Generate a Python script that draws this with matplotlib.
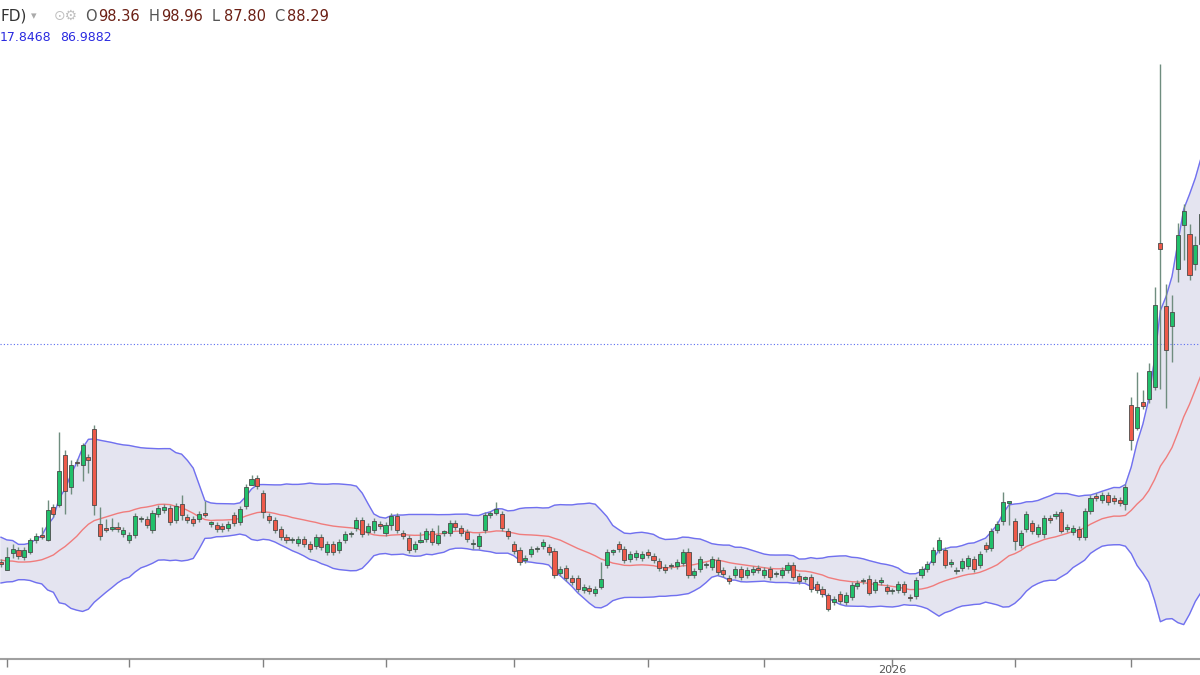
import numpy as np
import matplotlib.pyplot as plt
from matplotlib.patches import Rectangle

# closes before the first visible candle, only used to seed the bands
pre_close = [28, 27, 26, 27.5, 25, 26, 24.5, 23, 24, 22, 23, 21, 22, 21.5, 20, 21, 19.5, 20.5, 21.5, 22.3]

opens = [
    22.7, 21.1, 24.5, 25.1, 23.7, 24.7, 27.1, 28.1, 27.1, 33.7, 34.1, 44.1, 37.7, 42.6, 42.0, 43.7, 49.3, 30.3, 29.5, 29.3,
    29.7, 28.3, 27.1, 28.0, 31.2, 31.2, 29.0, 32.3, 33.1, 33.5, 31.0, 34.2, 31.7, 31.3, 31.2, 32.5, 30.3, 30.1, 29.8, 29.5,
    32.0, 30.7, 33.9, 38.0, 39.5, 36.5, 31.8, 31.0, 29.2, 27.7, 27.0, 26.5, 27.3, 26.3, 25.8, 27.7, 24.7, 26.2, 25.1, 27.1,
    28.2, 29.5, 31.0, 28.7, 29.1, 30.2, 28.5, 30.0, 31.8, 28.5, 27.5, 25.3, 26.7, 27.3, 28.9, 26.5, 28.5, 28.5, 30.5, 29.5,
    28.7, 26.2, 25.8, 29.1, 32.1, 32.5, 32.3, 28.8, 26.3, 25.1, 23.1, 24.2, 25.2, 25.8, 25.7, 24.9, 20.5, 21.5, 19.5, 19.5,
    17.0, 17.5, 16.5, 17.7, 22.0, 24.7, 26.3, 25.3, 23.3, 23.7, 23.5, 24.7, 23.8, 22.9, 21.7, 21.8, 21.8, 22.5, 24.7, 20.0,
    21.3, 22.0, 21.7, 23.1, 21.1, 19.5, 20.0, 21.3, 20.0, 20.7, 21.5, 20.0, 21.3, 20.2, 20.0, 21.1, 22.1, 19.9, 19.3, 19.7,
    18.2, 17.2, 16.0, 14.7, 16.3, 14.7, 15.7, 17.8, 18.8, 19.3, 17.1, 18.7, 17.7, 16.8, 17.1, 18.3, 15.7, 15.8, 20.0, 21.3,
    22.7, 25.1, 25.0, 22.2, 20.8, 21.5, 21.8, 23.3, 22.0, 26.1, 25.5, 29.0, 30.9, 34.5, 30.9, 26.1, 29.3, 30.5, 28.3, 28.2,
    31.5, 31.8, 32.7, 29.2, 28.7, 29.3, 27.7, 32.9, 35.8, 35.1, 36.0, 35.5, 35.1, 34.2, 54.0, 49.5, 54.7, 55.3, 57.7, 86.5,
    73.7, 69.8, 81.3, 90.1, 88.3, 82.3, 86.2, 96.5,
]
closes = [
    22.3, 23.7, 25.3, 23.8, 25.0, 27.0, 27.9, 27.7, 33.0, 32.2, 40.9, 36.8, 42.0, 42.4, 46.1, 43.1, 34.1, 27.8, 29.1, 29.3,
    29.2, 29.1, 28.1, 31.8, 31.2, 30.1, 32.5, 33.5, 33.7, 30.7, 33.9, 32.0, 31.0, 30.5, 32.2, 32.0, 30.3, 29.2, 29.3, 30.3,
    30.5, 33.3, 37.7, 39.2, 37.8, 32.7, 31.0, 29.0, 27.7, 27.0, 27.0, 27.3, 26.3, 25.3, 27.7, 25.7, 26.2, 24.7, 26.7, 28.2,
    28.2, 31.1, 28.3, 29.8, 30.8, 29.8, 30.0, 31.8, 29.0, 27.9, 25.0, 26.2, 26.7, 28.8, 26.7, 28.0, 28.5, 30.5, 29.7, 28.5,
    27.2, 26.2, 27.9, 32.1, 32.3, 33.3, 29.5, 27.9, 24.9, 22.7, 23.5, 25.3, 25.2, 26.7, 24.7, 20.0, 21.3, 19.5, 18.7, 17.2,
    17.7, 16.9, 17.3, 19.3, 24.7, 24.7, 25.3, 23.1, 24.2, 24.5, 24.3, 24.0, 23.1, 21.5, 21.1, 21.8, 22.7, 24.7, 20.0, 20.8,
    23.2, 22.0, 23.3, 20.7, 20.2, 18.9, 21.3, 19.7, 21.0, 21.3, 21.1, 21.1, 19.7, 20.2, 21.1, 22.0, 19.7, 18.8, 19.3, 17.3,
    17.1, 16.2, 13.3, 15.3, 14.9, 16.0, 18.1, 18.5, 18.8, 16.5, 18.7, 19.0, 16.8, 16.8, 18.3, 16.7, 15.4, 19.0, 21.3, 22.3,
    25.1, 27.1, 22.0, 22.7, 21.1, 22.9, 23.5, 21.3, 24.3, 25.3, 28.9, 30.3, 34.7, 34.5, 26.9, 28.5, 32.3, 28.9, 29.7, 31.5,
    31.1, 32.2, 28.9, 29.6, 29.5, 27.7, 32.9, 35.5, 35.5, 36.0, 34.7, 34.9, 34.5, 37.7, 47.1, 53.7, 53.8, 60.9, 74.0, 85.3,
    65.1, 72.7, 88.0, 92.8, 80.0, 86.0, 92.3, 94.0,
]
# wicks that stick out well past the body (index: (high, low))
big_wicks = {
    1: (25.7, 21.0), 2: (26.3, 23.5), 5: (27.5, 24.3), 7: (29.7, 27.3), 8: (35.0, 26.8), 10: (48.6, 33.6),
    11: (45.0, 32.3), 12: (43.1, 36.2), 14: (46.5, 38.9), 15: (44.2, 40.5), 16: (50.0, 32.0), 17: (33.7, 27.0),
    18: (31.3, 28.6), 19: (31.5, 28.8), 20: (30.7, 28.7), 31: (36.0, 31.0), 35: (34.8, 31.6), 43: (40.0, 38.0),
    45: (37.0, 31.5), 67: (32.5, 29.0), 72: (28.7, 26.4), 75: (30.0, 26.0), 81: (27.3, 25.2), 85: (34.7, 32.0),
    103: (22.7, 17.3), 118: (25.5, 19.4), 142: (16.5, 12.9), 149: (20.0, 16.0), 172: (36.7, 30.0), 173: (34.7, 30.0),
    174: (31.5, 25.0), 179: (32.0, 27.5), 182: (33.3, 28.5), 193: (38.3, 33.0),
    194: (55.7, 45.0), 195: (60.7, 49.0), 196: (57.0, 53.2), 197: (62.5, 54.5), 198: (77.7, 57.0),
    199: (122.3, 57.3), 200: (78.3, 53.5), 201: (76.1, 62.7), 202: (90.5, 78.7), 203: (94.2, 83.0),
    204: (90.2, 79.0), 205: (87.8, 81.0), 206: (99.7, 81.3), 207: (99.0, 92.0),
}
hline_level = 66.2
tick_idx = [1, 22, 45, 66, 88, 111, 131, 153, 174, 194]
tick_text = {153: "2026"}

GREEN = "#21c06b"
RED = "#ee5a4a"
EDGE = "#4a4a4a"
WICK = "#6f8d7f"

n = len(closes)
x = np.arange(n)
allc = np.array(pre_close + closes)
win = 20
mid = np.array([allc[i - win + 1:i + 1].mean() for i in range(len(pre_close), len(allc))])
sd = np.array([allc[i - win + 1:i + 1].std() for i in range(len(pre_close), len(allc))])
upper = mid + 2 * sd
lower = mid - 2 * sd

fig = plt.figure(figsize=(12, 6.75), dpi=100)
ax = fig.add_axes([0, 0, 1, 1])
ax.set_xlim(-0.17, 205.8)
ax.set_ylim(0, 135)
ax.axis("off")

ax.fill_between(x, lower, upper, color="#e4e4f0", zorder=1)
ax.plot(x, upper, color="#7070f0", lw=1, zorder=2)
ax.plot(x, lower, color="#7070f0", lw=1, zorder=2)
ax.plot(x, mid, color="#f07c7c", lw=1, zorder=2)
ax.axhline(hline_level, color="#5a6cf0", lw=0.8, ls=(0, (1, 2)), zorder=2)

for i in range(n):
    o, c = opens[i], closes[i]
    hi, lo = big_wicks.get(i, (max(o, c) + 0.6, min(o, c) - 0.6))
    ax.vlines(i, lo, hi, color=WICK, lw=1, zorder=3)
    col = GREEN if c >= o else RED
    h = max(abs(c - o), 0.25)
    ax.add_patch(Rectangle((i - 0.35, min(o, c)), 0.7, h, facecolor=col,
                           edgecolor=EDGE, lw=0.6, zorder=4))

# bottom time axis
ax.axhline(3.2, color="#a0a0a0", lw=1.5, zorder=2)
ax.vlines(tick_idx, 1.6, 3.2, color="#808080", lw=1)
for t, s in tick_text.items():
    ax.text(t, 1.0, s, ha="center", va="center", fontsize=8, color="#555555")

# header line
fig.text(0.0, 0.976, "FD)", fontsize=11, color="#333333", va="center")
fig.text(0.026, 0.976, "▾", fontsize=8, color="#aaaaaa", va="center")
fig.text(0.045, 0.976, "⊙⚙", fontsize=10, color="#c0c0c0", va="center")
parts = [("O", "98.36"), ("H", "98.96"), ("L", "87.80"), ("C", "88.29")]
px = 0.071
for k, v in parts:
    fig.text(px, 0.976, k, fontsize=10.5, color="#555555", va="center")
    fig.text(px + 0.0105, 0.976, v, fontsize=10.5, color="#6b1f14", va="center")
    px += 0.0525
fig.text(0.0, 0.944, "17.8468", fontsize=9, color="#2a2ae0", va="center")
fig.text(0.050, 0.944, "86.9882", fontsize=9, color="#2a2ae0", va="center")

fig.savefig("out.png", dpi=100)
